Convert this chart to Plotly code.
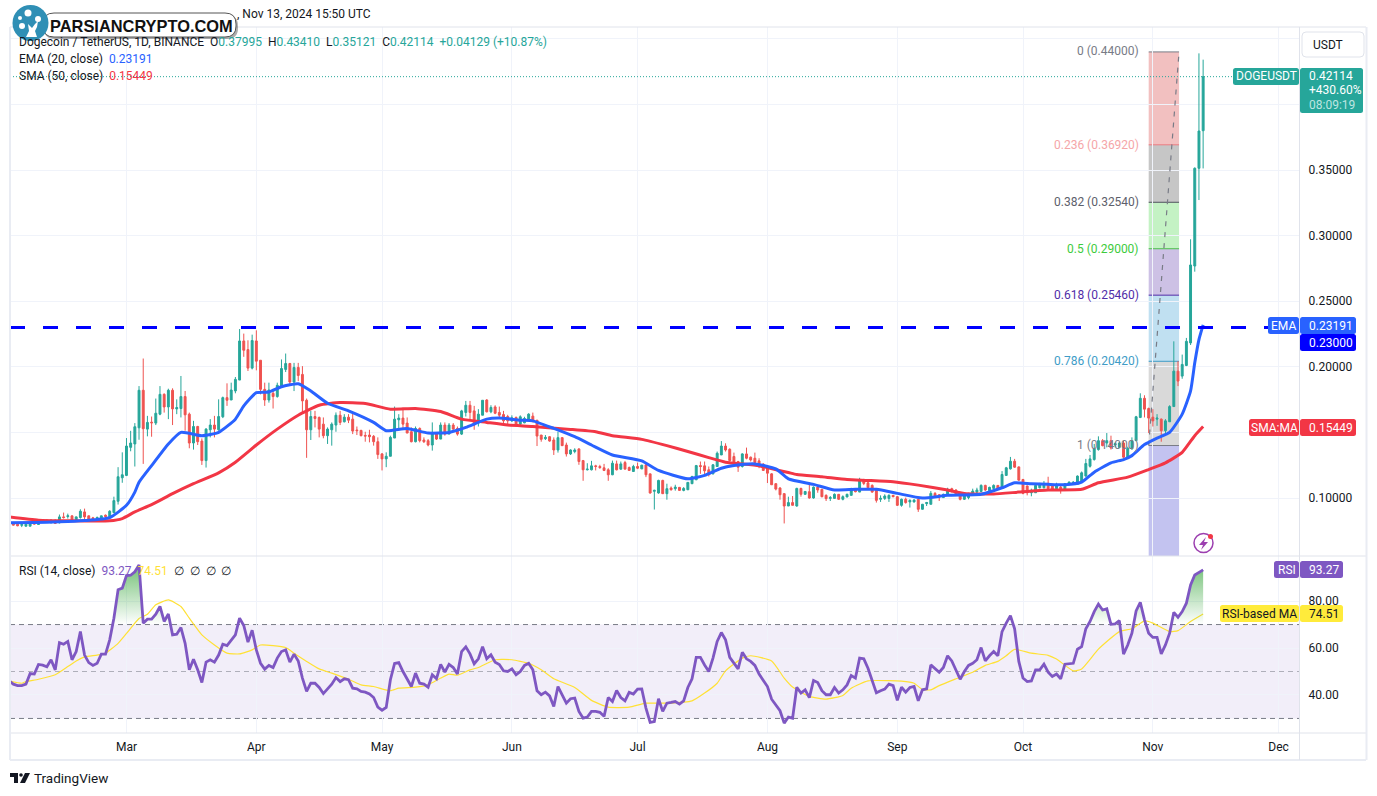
import pandas as pd
import plotly.graph_objects as go
from plotly.subplots import make_subplots

W, H = 1377, 796
FONT = "Roboto"
INK = "#131722"
UP = "#26A69A"
DOWN = "#EF5350"
GRID = "#F0F3FA"
BORDER = "#E0E3EB"

# daily candles, first bar is 2 Feb 2024
opens = [
    .0815,.0806,.0800,.0792,.0785,.0785,.0811,.0798,.0826,.0831,
    .0811,.0831,.0811,.0856,.0859,.0864,.0831,.0851,.0894,.0864,
    .0849,.0838,.0843,.0869,.0851,.0889,.0975,.1154,.1172,.1386,
    .1412,.1535,.1821,.1525,.1578,.1571,.1639,.179,.1694,.1821,
    .1679,.1682,.1773,.1639,.1419,.1545,.1434,.1285,.152,.1556,
    .152,.1619,.1765,.1747,.1816,.1899,.2197,.2131,.199,.2197,
    .205,.1828,.1747,.1798,.1773,.1854,.198,.2025,.1884,.1995,
    .1942,.1745,.152,.1621,.1614,.1563,.1475,.152,.1556,.1631,
    .1581,.1616,.1601,.1518,.1515,.1477,.148,.147,.1429,.1336,
    .1298,.1318,.1457,.1596,.1609,.1571,.1505,.1429,.153,.1442,
    .1437,.1404,.1498,.1449,.1556,.1487,.1556,.153,.1487,.1652,
    .1707,.1664,.1571,.1631,.1747,.1657,.1694,.1652,.1636,.1621,
    .1588,.1614,.1563,.1573,.1598,.1624,.1593,.148,.1452,.1467,
    .1442,.1366,.146,.1404,.1336,.1354,.1374,.1285,.1215,.1215,
    .1245,.124,.123,.1215,.1177,.126,.122,.127,.1232,.1202,
    .124,.1222,.1253,.1184,.1051,.1038,.1134,.1033,.1076,.1071,
    .1081,.1058,.1063,.1109,.1139,.1247,.1245,.1215,.1184,.124,
    .1328,.1396,.1371,.1316,.1278,.124,.1336,.1311,.1303,.1283,
    .1258,.1227,.1184,.1109,.1076,.1033,.0939,.0965,.0939,.1073,
    .1028,.1048,.10,.1083,.1066,.102,.0997,.0997,.1028,.099,
    .1008,.102,.1061,.1045,.1129,.1116,.1096,.1066,.099,.0997,
    .0997,.102,.101,.0944,.099,.097,.097,.099,.0914,.0957,
    .0952,.1035,.1025,.1003,.102,.1071,.1061,.1035,.099,.1003,
    .1028,.1045,.105,.1096,.1056,.1073,.1096,.1073,.1172,.1222,
    .128,.1237,.1141,.1091,.104,.104,.1078,.1078,.1111,.1096,
    .1071,.1083,.1063,.1104,.1104,.1104,.1121,.1167,.1242,.1293,
    .1369,.1437,.1419,.1437,.1404,.1386,.1419,.1311,.1374,.1437,
    .1614,.176,.1682,.1616,.1601,.1601,.1513,.1581,.1697,.1967,
    .1929,.201,.2182,.2768,.3513,.37995,
]
highs = [
    .082,.0812,.0805,.0805,.0803,.081,.0815,.083,.0833,.0836,
    .0838,.0836,.0874,.0889,.0881,.0866,.0859,.0914,.0919,.0866,
    .0856,.0859,.0866,.0874,.0907,.101,.1235,.1348,.1457,.1512,
    .1571,.1853,.2063,.1626,.1621,.1758,.1853,.1798,.1833,.1836,
    .1752,.193,.1816,.1651,.1588,.155,.1454,.1533,.1601,.1626,
    .1752,.1773,.1874,.1879,.1922,.2288,.2253,.2202,.2245,.2278,
    .205,.1879,.1879,.1828,.1879,.2056,.2101,.203,.203,.203,
    .2005,.1758,.1664,.1664,.1621,.1614,.1538,.1576,.1652,.1664,
    .1639,.1639,.1646,.1545,.152,.1505,.152,.148,.1462,.1343,
    .1348,.1475,.1697,.1639,.1689,.1614,.1538,.1545,.1538,.1462,
    .1449,.1576,.15,.1576,.1576,.1571,.1571,.1545,.1672,.174,
    .174,.1702,.1677,.1745,.1753,.1707,.1707,.1697,.1664,.1634,
    .163,.1621,.163,.1619,.1646,.1651,.1593,.148,.148,.1472,
    .1462,.1505,.1462,.1422,.1371,.1379,.1379,.129,.1265,.1283,
    .1253,.1253,.126,.1227,.1285,.1285,.1278,.1283,.124,.1253,
    .127,.1253,.1253,.1184,.1063,.1139,.1139,.1109,.1088,.1101,
    .1084,.1083,.1121,.1169,.1252,.1278,.1278,.124,.1258,.1354,
    .1434,.1417,.1379,.1346,.1283,.1341,.1384,.1316,.1346,.1303,
    .1265,.124,.1189,.1114,.1083,.1038,.101,.1015,.1078,.1078,
    .1053,.1111,.1088,.1083,.1068,.1028,.1015,.1035,.103,.102,
    .1033,.1078,.1063,.1154,.1146,.1129,.1104,.1071,.102,.1028,
    .1028,.1023,.1015,.0995,.1003,.099,.099,.0995,.0955,.097,
    .1053,.1045,.1028,.1033,.1078,.1078,.1066,.1045,.1023,.104,
    .1071,.1078,.1104,.1101,.1086,.1104,.1099,.1205,.1237,.1313,
    .1298,.124,.1146,.1096,.1071,.1101,.1116,.1129,.1162,.1101,
    .1116,.1096,.1114,.1126,.1129,.1172,.1202,.1298,.1328,.1412,
    .147,.1449,.1495,.1475,.1424,.1426,.1437,.1391,.1462,.1626,
    .1798,.1783,.1689,.1677,.1639,.1606,.1601,.1707,.2194,.2043,
    .2093,.222,.2972,.352,.4389,.4341,
]
lows = [
    .080,.079,.0785,.0778,.0783,.0785,.0798,.0795,.081,.0813,
    .0808,.0803,.0806,.0843,.0843,.082,.0828,.0843,.0831,.0826,
    .0826,.0833,.084,.0851,.0843,.0884,.095,.1116,.1167,.1356,
    .124,.1444,.126,.147,.1467,.1556,.1631,.1651,.1601,.1556,
    .1639,.1614,.1513,.1379,.1369,.1404,.1252,.1232,.1462,.1462,
    .1513,.1609,.1702,.1747,.1798,.1899,.2076,.1968,.198,.1973,
    .179,.1702,.1727,.1682,.1765,.1848,.196,.1854,.1815,.1891,
    .1646,.1306,.1442,.1538,.1462,.1455,.1412,.1399,.1505,.1556,
    .1576,.1571,.1487,.148,.147,.1429,.1424,.1399,.1298,.121,
    .1235,.1318,.1457,.1513,.1525,.1495,.1424,.1424,.1424,.1419,
    .1394,.1361,.1442,.1449,.1475,.1487,.152,.1475,.148,.1621,
    .1601,.152,.1545,.1631,.1652,.1646,.1639,.1614,.155,.1556,
    .158,.155,.1556,.157,.1593,.1581,.1396,.1429,.1442,.1429,
    .1328,.1346,.1396,.1316,.1328,.1341,.1253,.1131,.121,.121,
    .121,.1222,.1205,.1131,.1174,.121,.1215,.122,.1207,.1199,
    .122,.122,.1159,.1033,.0912,.1033,.103,.0987,.1056,.1056,
    .1055,.1051,.106,.1106,.1136,.1184,.1177,.1164,.118,.124,
    .1328,.1354,.1278,.1265,.1199,.1232,.1295,.1278,.1253,.1227,
    .1207,.1114,.1101,.1058,.0987,.0806,.0939,.0944,.0934,.101,
    .1025,.0995,.0995,.104,.1005,.0977,.0977,.0995,.0985,.0982,
    .1005,.102,.1043,.1045,.1098,.1071,.104,.0965,.097,.0985,
    .097,.1005,.0939,.0934,.0957,.0927,.0965,.0894,.0912,.0939,
    .0952,.101,.0977,.10,.102,.1043,.1023,.0982,.0985,.099,
    .102,.1035,.1045,.1053,.105,.1066,.107,.1073,.1169,.1217,
    .123,.1131,.1028,.102,.1013,.1038,.1073,.1073,.1073,.1058,
    .1058,.1033,.1053,.1096,.1099,.1099,.1116,.1162,.1232,.1285,
    .1361,.1394,.1386,.1369,.1386,.1381,.1303,.1303,.1369,.1437,
    .1609,.1614,.1495,.1545,.155,.1429,.1487,.1581,.1697,.1853,
    .1909,.2005,.2166,.2725,.3271,.35121,
]
closes = [
    .0808,.0793,.0788,.0797,.0800,.0805,.0801,.0823,.0813,.0818,
    .0831,.0806,.0856,.0851,.0864,.0823,.0856,.0899,.0856,.0831,
    .0836,.0851,.0864,.0859,.0899,.098,.1162,.1177,.1396,.1419,
    .1543,.1821,.1528,.1576,.1573,.1646,.179,.1694,.1821,.1679,
    .1689,.1773,.1634,.1419,.1545,.1429,.1285,.1525,.1556,.1525,
    .1621,.1765,.1745,.1823,.1904,.2197,.2126,.199,.22,.2043,
    .1828,.1747,.1823,.1773,.1859,.1987,.2025,.1884,.1995,.1934,
    .174,.152,.1621,.1606,.1525,.1475,.1525,.1563,.1631,.1576,
    .1616,.1593,.151,.1513,.1475,.1472,.1467,.1429,.1331,.1298,
    .1318,.1462,.1601,.1609,.1563,.1495,.1429,.153,.1437,.1429,
    .1404,.15,.1449,.1556,.1487,.1556,.1525,.1487,.1664,.1707,
    .1652,.1556,.1639,.1745,.1657,.169,.1646,.1631,.1588,.1588,
    .1611,.1563,.1619,.1606,.1639,.1581,.1472,.1447,.1462,.1434,
    .1366,.146,.1399,.1336,.1366,.1366,.1278,.1215,.122,.1245,
    .124,.1232,.121,.1177,.1265,.1215,.126,.122,.121,.124,
    .1227,.125,.1177,.1038,.1058,.1134,.1033,.1071,.1063,.1083,
    .1058,.1073,.1119,.1164,.1247,.124,.1207,.1177,.1253,.1341,
    .1396,.1366,.1285,.1273,.1235,.1336,.1303,.129,.127,.124,
    .121,.1189,.1101,.1068,.1025,.0939,.0965,.0944,.1073,.1028,
    .105,.10,.1083,.1061,.101,.0995,.1003,.1028,.099,.101,
    .1028,.1061,.1048,.1129,.1111,.1078,.1045,.0982,.0997,.1015,
    .102,.101,.0944,.099,.0965,.0982,.0985,.0914,.0952,.0965,
    .1035,.1015,.101,.1028,.1066,.1048,.1028,.099,.102,.1035,
    .1053,.1061,.1096,.1061,.1081,.1096,.1076,.1179,.123,.128,
    .1235,.1136,.1035,.104,.1058,.1096,.1104,.1111,.1073,.1066,
    .1104,.1058,.1109,.1121,.1121,.1167,.1192,.1263,.1298,.1374,
    .1437,.1399,.1437,.1381,.1414,.1419,.1311,.1379,.1437,.1619,
    .176,.1677,.1609,.1588,.1609,.1513,.1588,.1697,.1967,.1891,
    .2018,.2194,.2776,.3513,.3797,.42114,
]
rsi = [
    46,44.6,44,44,44.6,49.1,48.9,53,52.7,52,
    55,50.7,62.3,61.6,62.8,55,58.5,67,57,53.8,
    52.6,53.5,57.4,57.4,63.5,72.7,84.8,85.5,90.9,91,
    92.5,95.4,70.6,72.3,72.3,74.4,77.7,71.3,74.5,65.6,
    65.9,68.7,62,50.7,55.2,50.7,45.3,54,55,54,
    57,61.6,61,63.5,65.6,72.7,69.6,62.5,67.6,59.2,
    53.5,51,52.6,51.7,55.7,58.5,59.2,54,57.4,54.5,
    47.2,41.5,45,45,43.2,40.6,42.6,44.6,47.4,45.7,
    46.9,46.5,42.9,42.6,41.5,41.2,40.4,38.9,34.8,33.5,
    34.7,46.5,53.4,53.8,50,46.5,43.6,49.3,45,44.6,
    43.3,48.6,46.9,53,49.7,53,51.7,48.9,58.5,60.5,
    57.5,53.3,55.4,60.6,55.4,57.1,54,53,50.3,50,
    51.1,48.6,50,52.6,53.5,50.7,41.8,40.1,41.2,39.6,
    35.1,43.6,40.1,36.5,38.4,38.7,33,30.1,30.6,33,
    33,32.6,30.9,38.9,37.2,41.9,38.9,37.5,41.1,40.4,
    42.5,42.6,34.4,28.3,28.7,38.4,33,36.5,36.8,37.2,
    36.1,37.5,43.2,46.9,56,56,52.8,50,55.7,62.8,
    66.6,63.5,56,53.5,51.1,58.2,55.4,54.3,52.6,48.9,
    46,43.6,38.2,35.8,33.3,28,30.6,30.1,43.3,40.8,
    42.2,38.9,46.2,45.3,41.8,40.1,40.1,43.2,40.8,42.2,
    44.3,48.3,47.2,55.7,55.4,51.4,46,40.9,41.8,42.5,
    44.6,44,37.7,43.3,41.2,43.2,43.6,37.5,42.2,42.6,
    52.8,51.4,49.7,51.7,56.7,54.5,50.7,46.7,50,52.6,
    53.5,55,60.2,54.5,56.7,58.5,56.7,67,70.6,73.8,
    68.2,54.3,47.2,45.7,46,50.7,50.7,53.1,49.7,47.9,
    48.9,46.9,53.1,53.4,53.5,59.5,60.6,68.2,71.3,75.5,
    78.7,76.2,76.7,70.1,70.3,71.7,57.4,61.3,66.3,75.8,
    79.5,72,66.3,64.5,64.5,57.5,61.3,66.3,75.2,73.1,
    75.5,79.1,86.9,91.1,92.3,93.27,
]

ema_bars = [0,6,12,18,24,28,30,31,34,38,41,46,50,54,56,59,62,65,69,72,76,81,87,90,95,100,105,109,114,117,
            122,125,130,135,139,144,151,155,162,166,170,173,178,183,186,192,197,202,207,212,218,224,232,237,
            240,244,248,252,256,259,263,266,268,271,274,277,280,282,283,284,285]
ema_vals = [.0811,.0813,.0818,.0828,.0851,.0944,.1045,.112,.1247,.1412,.15,.1475,.15,.1601,.1702,.1803,.1808,
            .1848,.1871,.1816,.1722,.1664,.1576,.1513,.153,.1495,.15,.1538,.1601,.1609,.1593,.1588,.153,.1467,
            .1404,.1328,.1283,.121,.1146,.1172,.1227,.1247,.126,.1222,.1146,.1104,.1061,.1066,.1066,.1035,.10,
            .102,.1028,.1078,.1116,.1109,.1104,.1101,.1121,.1197,.1268,.1293,.1323,.1407,.1457,.15,.1639,
            .1816,.203,.2207,.23191]
sma_bars = [0,7,14,24,27,30,34,39,44,50,54,59,64,69,74,79,85,91,97,103,108,114,119,125,134,140,144,151,157,
            162,167,171,179,186,188,194,200,205,211,217,224,228,235,241,248,256,260,267,272,276,280,283,285]
sma_vals = [.0856,.0831,.0826,.0826,.0843,.0894,.0949,.1033,.1109,.1192,.1273,.1404,.1525,.1631,.1707,.1727,
            .172,.1677,.1682,.1659,.1601,.1576,.1556,.1545,.1523,.1505,.1475,.1447,.1399,.1354,.1308,.1273,
            .1245,.1194,.1179,.1162,.1141,.1134,.1124,.1098,.1061,.1035,.103,.1045,.1061,.1066,.1116,.1159,
            .1217,.1268,.1348,.1475,.15449]
rsi_ma_bars = [0,3,4,7,11,14,16,18,21,23,26,28,31,33,35,38,41,43,46,49,52,55,58,60,66,68,71,74,77,81,84,87,
               91,93,97,100,103,105,107,110,112,116,120,124,127,130,135,139,143,148,152,157,163,166,169,171,
               175,177,182,185,187,191,195,199,201,205,210,213,216,218,220,222,226,230,233,236,238,240,244,
               248,250,254,256,260,265,268,271,273,277,279,282,285]
rsi_ma_vals = [46,45,45.7,46.7,48.6,52.1,54.5,56.2,57,57.8,62,66.2,72.6,74.4,78.4,80.5,77.7,72.7,65.6,61.3,
               57.8,57.5,59.2,61.3,60.2,57.8,54.3,51.1,49.3,46.7,44.3,43.6,41.8,42.9,43.3,44.3,47.2,48.9,
               48.4,50.7,51.7,55,55,53.5,50.7,46.9,43.2,37.7,34.8,34.8,36.5,36.5,37.5,40.8,45,50.3,55.7,56.7,
               54.5,47.2,43.4,39.4,38.2,39.8,42.9,46,46.1,45.9,45,42.3,42.2,44,46.9,49.7,52.6,54.3,56.7,59.4,
               57.8,56.9,55.3,50.3,51.1,59.5,67,68.2,71.6,70.6,67,67.4,71.3,74.51]

fib_levels = [0.44, 0.3692, 0.3254, 0.29, 0.2546, 0.2042, 0.14]
fib_names = ["0", "0.236", "0.382", "0.5", "0.618", "0.786", "1"]
fib_text = ["#787B86", "#F5A6A8", "#5D606B", "#3DCB3D", "#512DA8", "#3E9CC7", "#787B86"]
fib_line = ["#787B86", "#EE7A7F", "#50535E", "#4CC04C", "#512DA8", "#3E9CC7", "#787B86"]
fib_fill = ["rgba(215,60,60,0.32)", "rgba(120,120,120,0.42)", "rgba(70,215,70,0.32)",
            "rgba(90,50,170,0.30)", "rgba(60,160,210,0.32)", "rgba(120,120,120,0.28)"]
fib_below = "rgba(60,60,205,0.31)"
fib_start, fib_end = "2024-10-31", "2024-11-07 06:00"

month_ticks = ["2024-03-01", "2024-04-01", "2024-05-01", "2024-06-01", "2024-07-01",
               "2024-08-01", "2024-09-01", "2024-10-01", "2024-11-01", "2024-12-01"]
month_names = ["Mar", "Apr", "May", "Jun", "Jul", "Aug", "Sep", "Oct", "Nov", "Dec"]
price_ticks = [.10, .15, .20, .25, .30, .35, .40, .45]
# .15, .40 and .45 sit behind the tags on the price scale
price_labels = ["0.10000", "", "0.20000", "0.25000", "0.30000", "0.35000", "", ""]
rsi_ticks = [40, 60, 80]

support = 0.23
last_price = 0.42114
price_range = [0.05579, 0.45899]
rsi_range = [23.8, 99.2]

dates = pd.date_range("2024-02-02", periods=len(closes))


def px(x):
    return x / W


def py(y):
    return 1 - y / H


fig = make_subplots(rows=2, cols=1, shared_xaxes=True, vertical_spacing=0)

fig.add_trace(go.Candlestick(x=dates, open=opens, high=highs, low=lows, close=closes,
                             increasing=dict(line=dict(color=UP, width=1), fillcolor=UP),
                             decreasing=dict(line=dict(color=DOWN, width=1), fillcolor=DOWN),
                             whiskerwidth=0, hoverinfo="skip"), row=1, col=1)
fig.add_trace(go.Scatter(x=[fib_start, fib_end], y=[fib_levels[-1], fib_levels[0]], mode="lines",
                         line=dict(color="#787B86", width=1.2, dash="5px,6px")), row=1, col=1)
fig.add_trace(go.Scatter(x=dates[sma_bars], y=sma_vals, mode="lines",
                         line=dict(color="#F23645", width=3, shape="spline", smoothing=0.5)), row=1, col=1)
fig.add_trace(go.Scatter(x=dates[ema_bars], y=ema_vals, mode="lines",
                         line=dict(color="#2962FF", width=3, shape="spline", smoothing=0.5)), row=1, col=1)

fig.add_trace(go.Scatter(x=dates[rsi_ma_bars], y=rsi_ma_vals, mode="lines",
                         line=dict(color="#FFE135", width=1.2, shape="spline", smoothing=0.5)), row=2, col=1)
# green only shows where RSI is over 70
fig.add_trace(go.Scatter(x=dates, y=rsi, mode="lines", line=dict(color="#7E57C2", width=2.8),
                         fill="tozeroy",
                         fillgradient=dict(type="vertical", start=70, stop=96,
                                           colorscale=[[0, "rgba(76,175,80,0)"], [1, "rgba(76,175,80,0.8)"]])),
              row=2, col=1)

shapes = []
# fib boxes
for i in range(6):
    shapes.append(dict(type="rect", xref="x", yref="y", x0=fib_start, x1=fib_end,
                       y0=fib_levels[i + 1], y1=fib_levels[i], fillcolor=fib_fill[i], line_width=0, layer="below"))
shapes.append(dict(type="rect", xref="x", yref="y", x0=fib_start, x1=fib_end, y0=price_range[0],
                   y1=fib_levels[-1], fillcolor=fib_below, line_width=0, layer="below"))
for lev, col in zip(fib_levels, fib_line):
    shapes.append(dict(type="line", xref="x", yref="y", x0=fib_start, x1=fib_end, y0=lev, y1=lev,
                       line=dict(color=col, width=1), layer="below"))

# rsi band and levels
shapes.append(dict(type="rect", xref="x2 domain", yref="y2", x0=0, x1=1, y0=30, y1=70,
                   fillcolor="rgba(126,87,194,0.1)", line_width=0, layer="below"))
for lev, col in [(70, "#787B86"), (50, "rgba(120,123,134,0.55)"), (30, "#787B86")]:
    shapes.append(dict(type="line", xref="x2 domain", yref="y2", x0=0, x1=1, y0=lev, y1=lev,
                       line=dict(color=col, width=1, dash="5px,4px"), layer="below"))

shapes.append(dict(type="line", xref="x domain", yref="y", x0=0, x1=1, y0=last_price, y1=last_price,
                   line=dict(color=UP, width=1, dash="1px,2px")))
shapes.append(dict(type="line", xref="x domain", yref="y", x0=0, x1=1, y0=support, y1=support,
                   line=dict(color="#0000FF", width=3, dash="15px,18px")))


def hline(y, x0=10, x1=1366, width=1, color=BORDER):
    shapes.append(dict(type="line", xref="paper", yref="paper", x0=px(x0), x1=px(x1), y0=py(y), y1=py(y),
                       line=dict(color=color, width=width)))


def vline(x, y0=27, y1=760, width=1, color=BORDER):
    shapes.append(dict(type="line", xref="paper", yref="paper", x0=px(x), x1=px(x), y0=py(y0), y1=py(y1),
                       line=dict(color=color, width=width)))


hline(27), hline(556), hline(733), hline(760, width=2, color="#E9ECF3")
vline(10, width=2, color="#E9ECF3"), vline(1299.5), vline(1366.5, width=2, color="#E9ECF3")


def round_box(x0, y0, x1, y1, color, r=2.5, line=None):
    path = (f"M {px(x0 + r)} {py(y0)} L {px(x1 - r)} {py(y0)} Q {px(x1)} {py(y0)} {px(x1)} {py(y0 + r)} "
            f"L {px(x1)} {py(y1 - r)} Q {px(x1)} {py(y1)} {px(x1 - r)} {py(y1)} "
            f"L {px(x0 + r)} {py(y1)} Q {px(x0)} {py(y1)} {px(x0)} {py(y1 - r)} "
            f"L {px(x0)} {py(y0 + r)} Q {px(x0)} {py(y0)} {px(x0 + r)} {py(y0)} Z")
    shapes.append(dict(type="path", xref="paper", yref="paper", path=path, fillcolor=color,
                       line=dict(color=line or color, width=1 if line else 0)))


def circle(cx, cy, r, color, line=None, width=1):
    shapes.append(dict(type="circle", xref="paper", yref="paper", x0=px(cx - r), x1=px(cx + r),
                       y0=py(cy + r), y1=py(cy - r), fillcolor=color,
                       line=dict(color=line or color, width=width if line else 0)))


def poly(points, color):
    path = "M " + " L ".join(f"{px(x)} {py(y)}" for x, y in points) + " Z"
    shapes.append(dict(type="path", xref="paper", yref="paper", path=path, fillcolor=color, line_width=0))


notes = []


def text(x, y, s, size=12, color=INK, anchor="left", family=FONT):
    notes.append(dict(xref="paper", yref="paper", x=px(x), y=py(y), text=s, showarrow=False, xanchor=anchor,
                      yanchor="middle", font=dict(size=size, color=color, family=family), borderpad=0))


def span(s, color):
    return f'<span style="color:{color}">{s}</span>'


# header and pane legends
text(372, 14, ", Nov 13, 2024 15:50 UTC", anchor="right")
text(18, 42, "Dogecoin / TetherUS, 1D, BINANCE&nbsp;&nbsp;O" + span("0.37995", UP) + "&nbsp;&nbsp;H" + span("0.43410", UP)
     + "&nbsp;&nbsp;L" + span("0.35121", UP) + "&nbsp;&nbsp;C" + span("0.42114", UP) + "&nbsp;&nbsp;" + span("+0.04129 (+10.87%)", UP))
text(18, 59, "EMA (20, close)&nbsp;&nbsp;" + span("0.23191", "#2962FF"))
text(18, 76, "SMA (50, close)&nbsp;&nbsp;" + span("0.15449", "#F23645"))
text(18, 571, "RSI (14, close)&nbsp;&nbsp;" + span("93.27", "#7E57C2") + "&nbsp;&nbsp;" + span("74.51", "#FFE135")
     + "&nbsp;&nbsp;∅&nbsp;&nbsp;∅&nbsp;&nbsp;∅&nbsp;&nbsp;∅")

# fib labels
fib_y = [51, 145, 202, 249, 295, 361, 445]
for name, lev, col, y in zip(fib_names, fib_levels, fib_text, fib_y):
    text(1140, y, f"{name} ({lev:.5f})", color=col, anchor="right")

# price axis tags
round_box(1302, 32, 1364, 57, "white", r=4, line=BORDER)
text(1312, 44.5, "USDT")
round_box(1233, 68, 1299, 85, UP)
text(1266, 76.5, "DOGEUSDT", color="white", anchor="center")
round_box(1300, 68, 1363, 113, UP)
text(1308, 76.5, "0.42114", color="white")
text(1308, 90.5, "+430.60%", color="white")
text(1308, 104.5, "08:09:19", color="#BEE5E1")
round_box(1268, 317, 1299, 334, "#2962FF")
text(1283.5, 325.5, "EMA", color="white", anchor="center")
round_box(1300, 317, 1356, 334, "#2962FF")
text(1308, 325.5, "0.23191", color="white")
round_box(1300, 334, 1356, 351, "#0000FF")
text(1308, 342.5, "0.23000", color="white")
round_box(1249, 419, 1299, 436, "#F23645")
text(1274, 427.5, "SMA:MA", color="white", anchor="center")
round_box(1300, 419, 1356, 436, "#F23645")
text(1308, 427.5, "0.15449", color="white")
round_box(1274, 561, 1299, 578, "#7E57C2")
text(1286.5, 569.5, "RSI", color="white", anchor="center")
round_box(1300, 561, 1343, 578, "#7E57C2")
text(1308, 569.5, "93.27", color="white")
round_box(1220, 605, 1299, 622, "#FFEB3B")
text(1259.5, 613.5, "RSI-based MA", color=INK, anchor="center")
round_box(1300, 605, 1343, 622, "#FFEB3B")
text(1308, 613.5, "74.51", color=INK)

# bolt icon
circle(1203.5, 543, 9.5, "white", line="#9C3FB0", width=1.5)
poly([(1206, 537), (1199, 545), (1203, 545), (1201, 550), (1208, 542), (1204, 542)], "#9C3FB0")
circle(1210.5, 536.5, 2.5, "#F23645")

# site logo
round_box(44, 15, 238, 39, "rgba(70,70,70,0.45)", r=11)
round_box(43, 13, 236, 37, "white", r=11, line="#555555")
circle(30.5, 23, 18, "#2F8FB5")
poly([(28, 24), (32, 28), (35, 24), (38, 21), (37, 27), (35, 31), (37, 37), (26, 37), (29, 31)], "white")
circle(22, 26, 3, "white")
circle(20, 18, 2, "white")
circle(28, 13, 3.5, "white")
circle(38, 19, 3, "white")
text(49, 26, "<b>PARSIANCRYPTO.COM</b>", size=16.4, color="#111111", family="Liberation Sans")

# footer
poly([(10, 773), (18, 773), (18, 783), (14, 783), (14, 777), (10, 777)], INK)
circle(21, 775, 1.8, INK)
poly([(25, 773), (30, 773), (25, 783), (20, 783)], INK)
text(33, 778, "TradingView", size=13.5)

fig.update_layout(
    width=W, height=H, margin=dict(l=0, r=0, t=0, b=0), paper_bgcolor="white", plot_bgcolor="white",
    showlegend=False, shapes=shapes, annotations=notes, font=dict(family=FONT, size=12, color=INK),
    hovermode=False, boxgap=0.35,
)
fig.update_xaxes(domain=[px(10), px(1299.5)], range=["2024-02-02 04:48", "2024-12-06"], tickvals=month_ticks,
                 ticktext=month_names, showgrid=True, gridcolor=GRID, gridwidth=1, zeroline=False, showline=False,
                 ticks="", rangeslider_visible=False, ticklabelstandoff=5, tickfont=dict(size=12, color=INK, family=FONT))
fig.update_yaxes(side="right", showgrid=True, gridcolor=GRID, zeroline=False, showline=False, ticks="",
                 ticklabelposition="outside", ticklabelstandoff=8, tickfont=dict(size=12, color=INK, family=FONT))
fig.update_yaxes(domain=[py(556), py(27)], range=price_range, tickvals=price_ticks, ticktext=price_labels, row=1, col=1)
fig.update_yaxes(domain=[py(733), py(556)], range=rsi_range, tickvals=rsi_ticks, tickformat=".2f", row=2, col=1)

fig.write_html("out.html", config={"displayModeBar": False},
               post_script="document.body.style.margin='0';document.body.style.overflow='hidden';")
